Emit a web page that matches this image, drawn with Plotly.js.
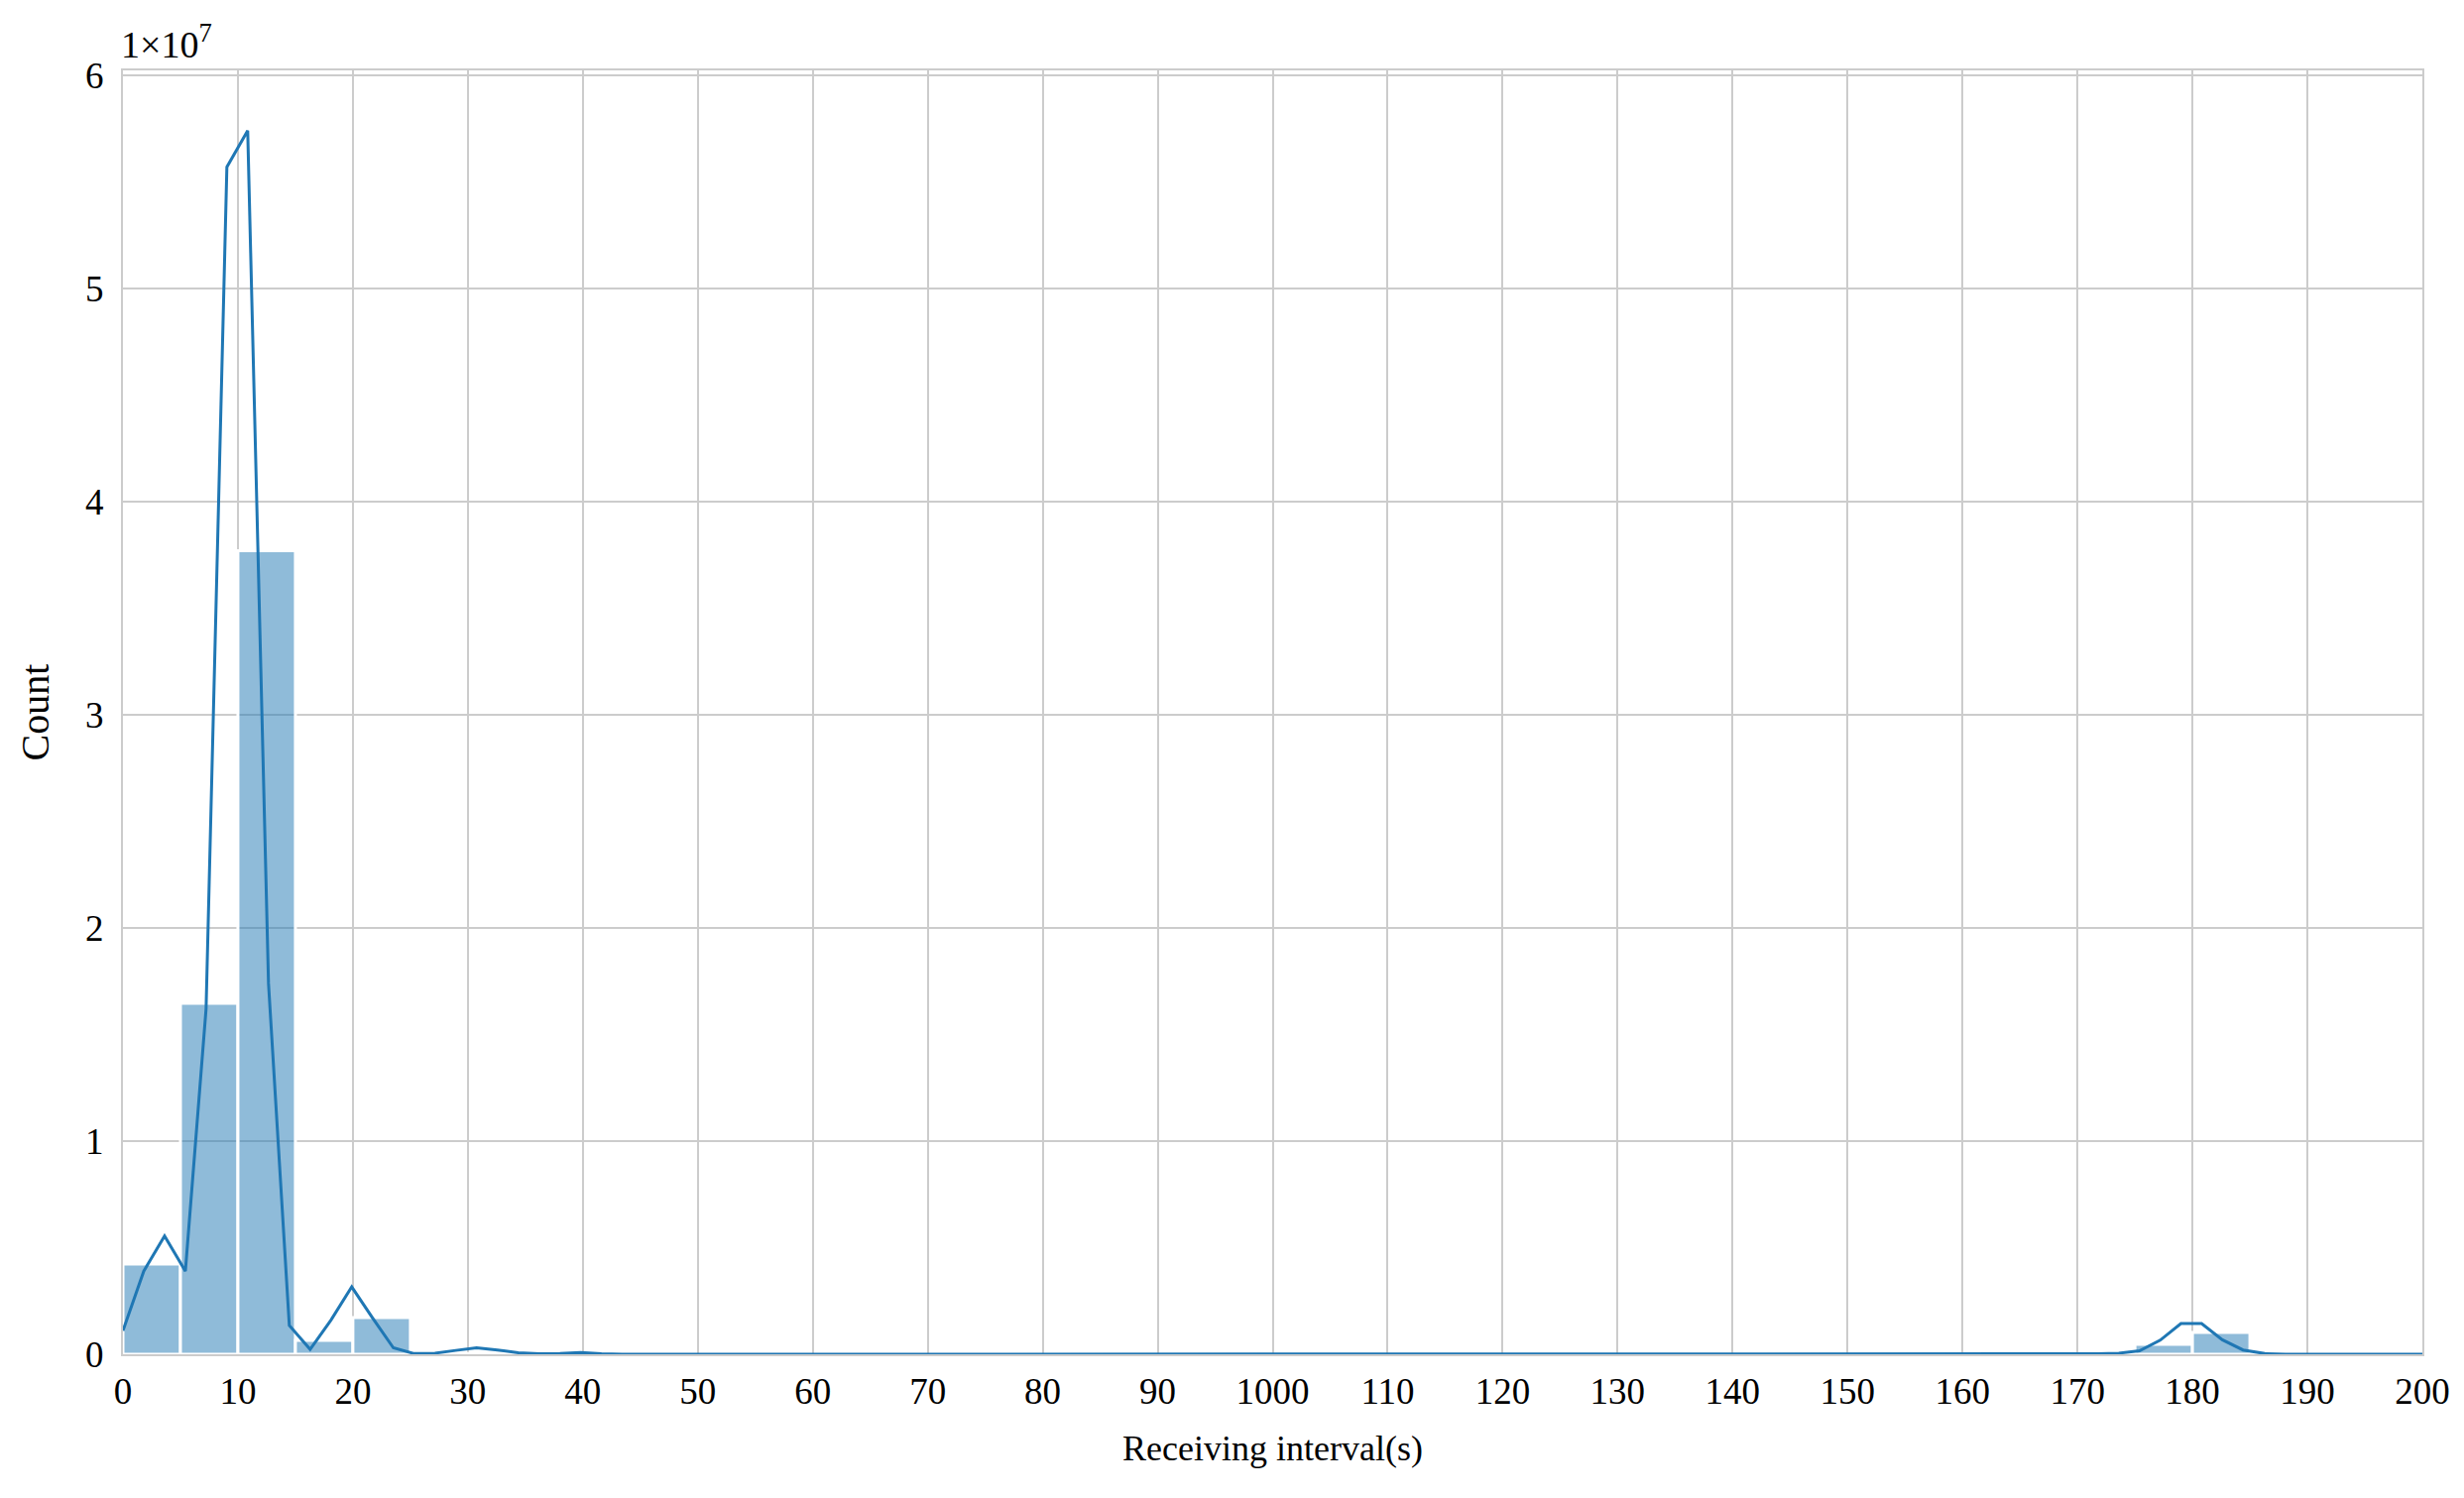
<!DOCTYPE html>
<html>
<head>
<meta charset="utf-8">
<script src="https://cdn.plot.ly/plotly-3.0.1.min.js"></script>
<style>
  html, body { margin: 0; padding: 0; background: #fff; }
  #chart { width: 2485px; height: 1511px; }
</style>
</head>
<body>
<div id="chart"></div>
<script>
// histogram bins (left edge, width 5 s) and counts
const binStart = [0, 5, 10, 15, 20, 30, 175, 180];
const binCount = [4230000, 16470000, 37700000, 650000, 1720000, 40000, 470000, 1020000];
const binWidth = 5;

const kdeX = [0, 1.81, 3.62, 5.43, 7.23, 9.04, 10.85, 12.66, 14.47, 16.28, 18.09, 19.9,
  21.71, 23.52, 25.33, 27.14, 28.95, 30.76, 32.57, 34.38, 36.19, 38.0, 39.81, 41.62, 43.43,
  170.0, 171.8, 173.6, 175.4, 177.2, 179.0, 180.8, 182.6, 184.4, 186.3, 188.1, 189.9, 200];
const kdeY = [1100000, 3900000, 5550000, 3900000, 16200000, 55700000, 57400000, 17400000,
  1350000, 230000, 1600000, 3160000, 1700000, 300000, 30000, 50000, 180000, 300000, 200000,
  70000, 20000, 30000, 80000, 20000, 0,
  0, 20000, 50000, 160000, 660000, 1440000, 1440000, 680000, 200000, 30000, 5000, 0, 0];

// x tick labels as printed (the "1000" is in the original)
const xTickVals = [0, 10, 20, 30, 40, 50, 60, 70, 80, 90, 100, 110, 120, 130, 140, 150, 160, 170, 180, 190, 200];
const xTickText = ['0', '10', '20', '30', '40', '50', '60', '70', '80', '90', '1000', '110', '120',
  '130', '140', '150', '160', '170', '180', '190', '200'];
const yTickVals = [0, 1e7, 2e7, 3e7, 4e7, 5e7, 6e7];
const yTickText = ['0', '1', '2', '3', '4', '5', '6'];

const serif = 'Liberation Serif, Times New Roman, serif';
const gridGray = '#cccccc';

const bars = {
    type: 'bar',
    x: binStart.map(b => b + binWidth / 2),
    y: binCount,
    width: binWidth,
    marker: { color: 'rgba(31,119,180,0.5)', line: { color: '#ffffff', width: 3 } },
    hoverinfo: 'skip',
    showlegend: false
};

const kde = {
    type: 'scatter',
    mode: 'lines',
    x: kdeX,
    y: kdeY,
    line: { color: '#1f77b4', width: 3 },
    showlegend: false
};

const layout = {
    width: 2485,
    height: 1511,
    paper_bgcolor: '#ffffff',
    plot_bgcolor: '#ffffff',
    margin: { l: 124, r: 42, t: 71, b: 145 },
    font: { family: serif, color: '#000000', size: 37 },
    bargap: 0,
    xaxis: {
        range: [0, 200],
        tickvals: xTickVals,
        ticktext: xTickText,
        ticks: '',
        ticklabelstandoff: 4,
        tickfont: { family: serif, size: 37, color: '#000' },
        showgrid: true,
        gridcolor: gridGray,
        gridwidth: 2,
        zeroline: false,
        showline: true,
        mirror: true,
        linecolor: gridGray,
        linewidth: 2,
        title: { text: 'Receiving interval(s)', font: { family: serif, size: 36, color: '#000' }, standoff: 24 }
    },
    yaxis: {
        range: [0, 6.023e7],
        tickvals: yTickVals,
        ticktext: yTickText,
        ticks: '',
        ticklabelstandoff: 10,
        tickfont: { family: serif, size: 37, color: '#000' },
        showgrid: true,
        gridcolor: gridGray,
        gridwidth: 2,
        zeroline: false,
        showline: true,
        mirror: true,
        linecolor: gridGray,
        linewidth: 2,
        title: { text: 'Count', font: { family: serif, size: 40, color: '#000' }, standoff: 24 }
    },
    annotations: [{
        xref: 'paper', yref: 'paper',
        x: 0, y: 1, xanchor: 'left', yanchor: 'bottom',
        yshift: 3, xshift: -4,
        text: '1×10<sup>7</sup>',
        showarrow: false,
        font: { family: serif, size: 38, color: '#000' }
    }]
};

Plotly.newPlot('chart', [bars, kde], layout, { staticPlot: true });
</script>
</body>
</html>
